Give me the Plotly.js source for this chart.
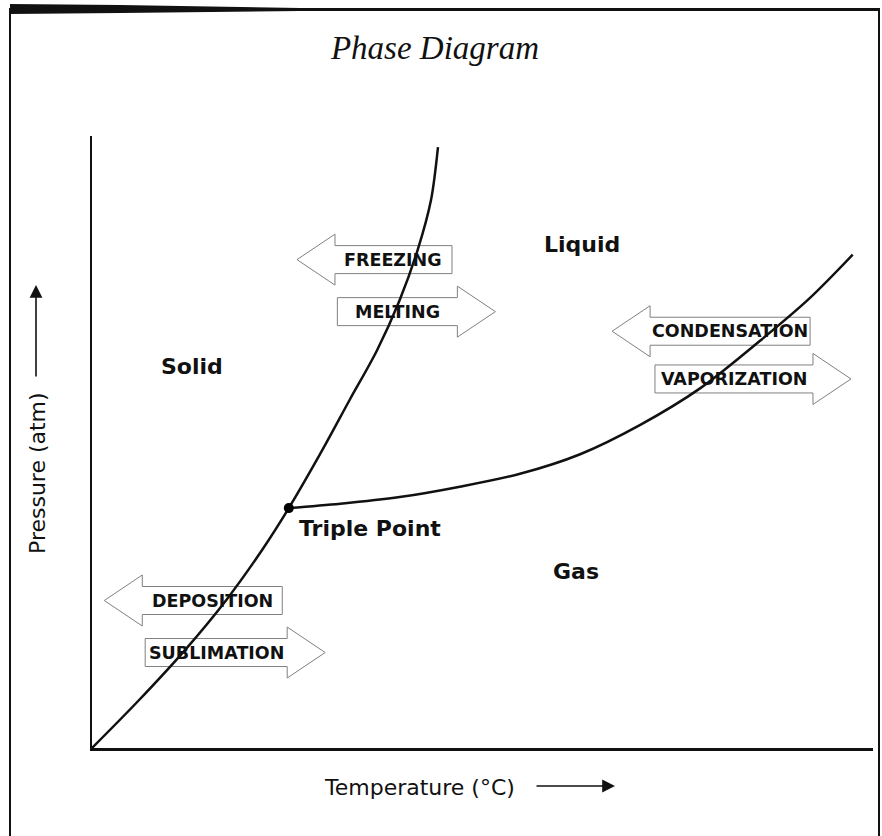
<!DOCTYPE html>
<html>
<head>
<meta charset="utf-8">
<script src="https://cdn.plot.ly/plotly-3.0.1.min.js"></script>
<style>html,body{margin:0;padding:0;background:#fff;}#chart{width:882px;height:836px;}</style>
</head>
<body>
<div id="chart"></div>
<script>
// ---- data (arbitrary units: temperature 0-100, pressure 0-100) ----
const solidLiquidTemp  = [0, 6.0, 11.9, 17.2, 21.8, 25.2, 29.5, 33.0, 36.5, 39.4, 41.7, 43.4, 44.3];
const solidLiquidPress = [0, 7.8, 16.0, 24.2, 32.4, 39.2, 48.7, 56.9, 65.0, 73.2, 81.4, 89.5, 98.2];
const liquidGasTemp    = [25.2, 31.8, 39.4, 47.1, 54.8, 62.5, 70.2, 77.9, 85.5, 91.9, 97.4];
const liquidGasPress   = [39.2, 39.9, 41.0, 42.7, 44.8, 48.0, 52.8, 58.8, 66.5, 73.5, 80.6];
const triplePointTemp  = [25.2];
const triplePointPress = [39.2];

const regionNames = ["Liquid", "Solid", "Triple Point", "Gas"];
const processNames = ["FREEZING", "MELTING", "CONDENSATION", "VAPORIZATION", "DEPOSITION", "SUBLIMATION"];
const processDirections = ["left", "right", "left", "right", "left", "right"];

// ---- placement (kept apart from the data) ----
const regionPos = [[62.7, 82.2], [12.8, 62.3], [35.6, 35.8], [62.0, 28.9]];
const processPos = [[38.6, 79.8], [39.1, 71.3], [81.7, 68.1], [82.2, 60.3], [15.4, 24.1], [15.9, 15.6]];
const processBodyW = [117, 120, 160, 158, 140, 142];

const W = 882, H = 836;
const M = {l: 92, r: 9, t: 136, b: 88};
const plotW = W - M.l - M.r, plotH = H - M.t - M.b;
const dxpp = 100 / plotW, dypp = 100 / plotH;   // data units per pixel

function arrowPath(cx, cy, w, dir) {
  const h = 28, headLen = 38, headH = 51;
  const top = cy + h / 2 * dypp, bot = cy - h / 2 * dypp;
  const hTop = cy + headH / 2 * dypp, hBot = cy - headH / 2 * dypp;
  const L = cx - w / 2 * dxpp, R = cx + w / 2 * dxpp;
  if (dir === "left") {
    const tip = L - headLen * dxpp;
    return `M${R},${top} L${L},${top} L${L},${hTop} L${tip},${cy} L${L},${hBot} L${L},${bot} L${R},${bot} Z`;
  } else {
    const tip = R + headLen * dxpp;
    return `M${L},${top} L${R},${top} L${R},${hTop} L${tip},${cy} L${R},${hBot} L${R},${bot} L${L},${bot} Z`;
  }
}

const traces = [
  {x: solidLiquidTemp, y: solidLiquidPress, mode: "lines", type: "scatter",
   line: {color: "#111", width: 2.5, shape: "spline", smoothing: 0.9}, hoverinfo: "skip"},
  {x: liquidGasTemp, y: liquidGasPress, mode: "lines", type: "scatter",
   line: {color: "#111", width: 2.5, shape: "spline", smoothing: 0.9}, hoverinfo: "skip"},
  {x: triplePointTemp, y: triplePointPress, mode: "markers", type: "scatter",
   marker: {color: "#000", size: 10}, hoverinfo: "skip"}
];

const shapes = [];
const annotations = [];

processNames.forEach((name, i) => {
  shapes.push({type: "path", xref: "x", yref: "y", layer: "below",
    path: arrowPath(processPos[i][0], processPos[i][1], processBodyW[i], processDirections[i]),
    line: {color: "#808080", width: 1}, fillcolor: "#fff"});
  annotations.push({x: processPos[i][0], y: processPos[i][1], xref: "x", yref: "y",
    xanchor: "center", yanchor: "middle",
    text: "<b>" + name + "</b>", showarrow: false,
    font: {family: "DejaVu Sans", size: 17.5, color: "#111"}});
});

regionNames.forEach((name, i) => {
  annotations.push({x: regionPos[i][0], y: regionPos[i][1], xref: "x", yref: "y",
    xanchor: "center", yanchor: "middle",
    text: "<b>" + name + "</b>", showarrow: false,
    font: {family: "DejaVu Sans", size: 22, color: "#111"}});
});

function px2paperX(px) { return (px - M.l) / plotW; }
function py2paperY(py) { return (H - M.b - py) / plotH; }

// axis titles with arrows
annotations.push({x: px2paperX(419), y: py2paperY(787), xref: "paper", yref: "paper",
  xanchor: "center", yanchor: "middle",
  text: "Temperature (°C)", showarrow: false,
  font: {family: "DejaVu Sans", size: 22, color: "#111"}});
annotations.push({x: px2paperX(615), y: py2paperY(786), xref: "paper", yref: "paper",
  text: "", showarrow: true, ax: -80, ay: 0, arrowhead: 2, arrowsize: 1.6, arrowwidth: 1.6, arrowcolor: "#111"});
annotations.push({x: px2paperX(37), y: py2paperY(473), xref: "paper", yref: "paper",
  xanchor: "center", yanchor: "middle",
  text: "Pressure (atm)", showarrow: false, textangle: -90,
  font: {family: "DejaVu Sans", size: 22, color: "#111"}});
annotations.push({x: px2paperX(36), y: py2paperY(285), xref: "paper", yref: "paper",
  text: "", showarrow: true, ax: 0, ay: 93, arrowhead: 2, arrowsize: 1.6, arrowwidth: 1.6, arrowcolor: "#111"});

// page frame (scan border)
shapes.push({type: "rect", xref: "paper", yref: "paper", layer: "above",
  x0: px2paperX(10), x1: px2paperX(879), y0: py2paperY(845), y1: py2paperY(9),
  line: {color: "#111", width: 2}, fillcolor: "rgba(0,0,0,0)"});
const bandTop = [[10, 4], [120, 5], [300, 8], [500, 9], [879, 9]];
const bandBot = [[879, 11], [500, 11], [300, 11], [120, 13], [10, 14]];
shapes.push({type: "path", xref: "paper", yref: "paper", layer: "above",
  path: "M" + bandTop.concat(bandBot).map(p => px2paperX(p[0]) + "," + py2paperY(p[1])).join(" L") + " Z",
  line: {width: 0}, fillcolor: "#111"});

const layout = {
  width: W, height: H,
  margin: M,
  paper_bgcolor: "#fff", plot_bgcolor: "#fff",
  showlegend: false,
  title: {text: "<i>Phase Diagram</i>", x: 435 / W, xref: "container", xanchor: "center",
          y: 1 - 47 / H, yref: "container", yanchor: "middle",
          font: {family: "Liberation Serif", size: 33, color: "#111"}},
  xaxis: {range: [0, 100], showline: true, linecolor: "#111", linewidth: 2.5, mirror: false,
          showticklabels: false, ticks: "", showgrid: false, zeroline: false, fixedrange: true},
  yaxis: {range: [0, 100], showline: true, linecolor: "#111", linewidth: 2.5, mirror: false,
          showticklabels: false, ticks: "", showgrid: false, zeroline: false, fixedrange: true},
  shapes: shapes,
  annotations: annotations
};

Plotly.newPlot("chart", traces, layout, {staticPlot: true, displayModeBar: false});
</script>
</body>
</html>
